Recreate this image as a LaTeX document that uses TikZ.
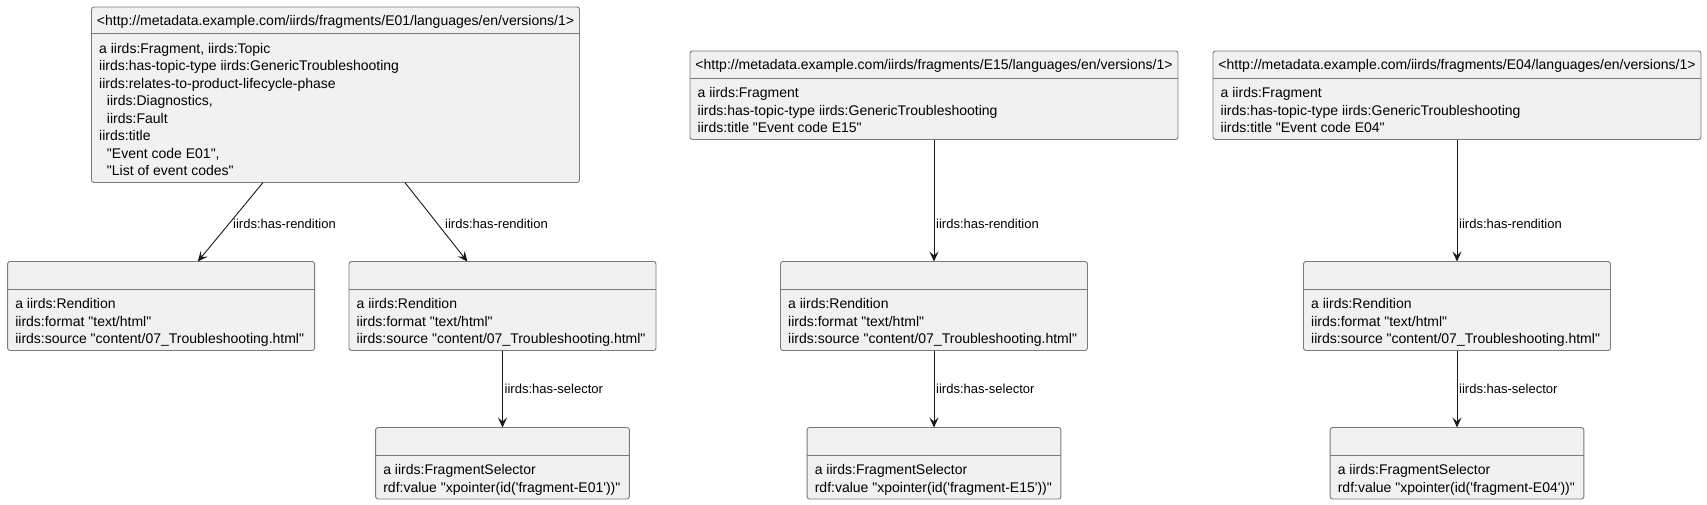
\documentclass[tikz,border=0pt]{standalone}
\usepackage{fontspec}
\setmainfont{Liberation Sans}[Ligatures=TeXOff]
\usetikzlibrary{arrows.meta}
\definecolor{boxfill}{HTML}{F1F1F1}
\definecolor{boxline}{HTML}{7A7A7A}
\definecolor{arrowc}{HTML}{181818}
\tikzset{
  objbox/.style={draw=boxline, fill=boxfill, line width=0.9pt, rounded corners=2.5pt, inner sep=0pt, outer sep=0pt, rectangle},
  sepline/.style={draw=boxline, line width=0.9pt},
  bodytext/.style={anchor=base west, inner sep=0pt, font=\fontsize{14}{17.5}\selectfont},
  hdrtext/.style={anchor=base, inner sep=0pt, font=\fontsize{14}{17.5}\selectfont},
  lbl/.style={anchor=base west, inner sep=0pt, font=\fontsize{13}{15}\selectfont},
  rel/.style={draw=arrowc, line width=0.9pt, -{Stealth[length=10pt,width=9pt,inset=4pt]}}
}
\newcommand\umlobj[7]{%
  \node[objbox, anchor=north west, minimum width={(#4-(#2))*1pt}, minimum height={(#5-(#3)+#6*17.5+9)*1pt}] (#1) at (#2,#3) {};
  \draw[sepline] (#2,#5) -- (#4,#5);
  \node[bodytext] (#1-body) at ({#2+7.5},{#5+19.5}) {\begin{tabular}[t]{@{}l@{}}#7\end{tabular}};
}
\begin{document}
\begin{tikzpicture}[x=1pt,y=-1pt]
\useasboundingbox (0,0) rectangle (1707,504);
% ---- E01 ----
\umlobj{E01}{91.5}{7}{579.5}{33.5}{8}{a iirds:Fragment, iirds:Topic\\iirds:has-topic-type iirds:GenericTroubleshooting\\iirds:relates-to-product-lifecycle-phase\\\ \ iirds:Diagnostics,\\\ \ iirds:Fault\\iirds:title\\\ \ "Event code E01",\\\ \ "List of event codes"}
\node[hdrtext] (E01-head) at (335.5,25) {<http://metadata.example.com/iirds/fragments/E01/languages/en/versions/1>};
\umlobj{R1}{7.6}{261.5}{314.6}{289}{3}{a iirds:Rendition\\iirds:format "text/html"\\iirds:source "content/07\_Troubleshooting.html"}
\umlobj{R2}{349}{261.5}{656}{289}{3}{a iirds:Rendition\\iirds:format "text/html"\\iirds:source "content/07\_Troubleshooting.html"}
\umlobj{S1}{375.6}{427.5}{629.4}{455}{2}{a iirds:FragmentSelector\\rdf:value "xpointer(id('fragment-E01'))"}
% ---- E15 ----
\umlobj{E15}{690}{51}{1178}{78}{3}{a iirds:Fragment\\iirds:has-topic-type iirds:GenericTroubleshooting\\iirds:title "Event code E15"}
\node[hdrtext] (E15-head) at (934,69.5) {<http://metadata.example.com/iirds/fragments/E15/languages/en/versions/1>};
\umlobj{R15}{780.5}{261.5}{1087.5}{289}{3}{a iirds:Rendition\\iirds:format "text/html"\\iirds:source "content/07\_Troubleshooting.html"}
\umlobj{S15}{807.1}{427.5}{1060.9}{455}{2}{a iirds:FragmentSelector\\rdf:value "xpointer(id('fragment-E15'))"}
% ---- E04 ----
\umlobj{E04}{1213}{51}{1701}{78}{3}{a iirds:Fragment\\iirds:has-topic-type iirds:GenericTroubleshooting\\iirds:title "Event code E04"}
\node[hdrtext] (E04-head) at (1457,69.5) {<http://metadata.example.com/iirds/fragments/E04/languages/en/versions/1>};
\umlobj{R04}{1303.5}{261.5}{1610.5}{289}{3}{a iirds:Rendition\\iirds:format "text/html"\\iirds:source "content/07\_Troubleshooting.html"}
\umlobj{S04}{1330.1}{427.5}{1583.9}{455}{2}{a iirds:FragmentSelector\\rdf:value "xpointer(id('fragment-E04'))"}
% ---- connectors ----
\draw[rel] (E01) -- (R1);
\draw[rel] (E01) -- (R2);
\draw[rel] (R2) -- (S1);
\draw[rel] (E15) -- (R15);
\draw[rel] (R15) -- (S15);
\draw[rel] (E04) -- (R04);
\draw[rel] (R04) -- (S04);
% ---- labels ----
\node[lbl] (l1) at (233,228) {iirds:has-rendition};
\node[lbl] (l2) at (445,228) {iirds:has-rendition};
\node[lbl] (l3) at (504.5,393.3) {iirds:has-selector};
\node[lbl] (l4) at (936,228) {iirds:has-rendition};
\node[lbl] (l5) at (936,393.3) {iirds:has-selector};
\node[lbl] (l6) at (1459,228) {iirds:has-rendition};
\node[lbl] (l7) at (1459,393.3) {iirds:has-selector};
\end{tikzpicture}
\end{document}
